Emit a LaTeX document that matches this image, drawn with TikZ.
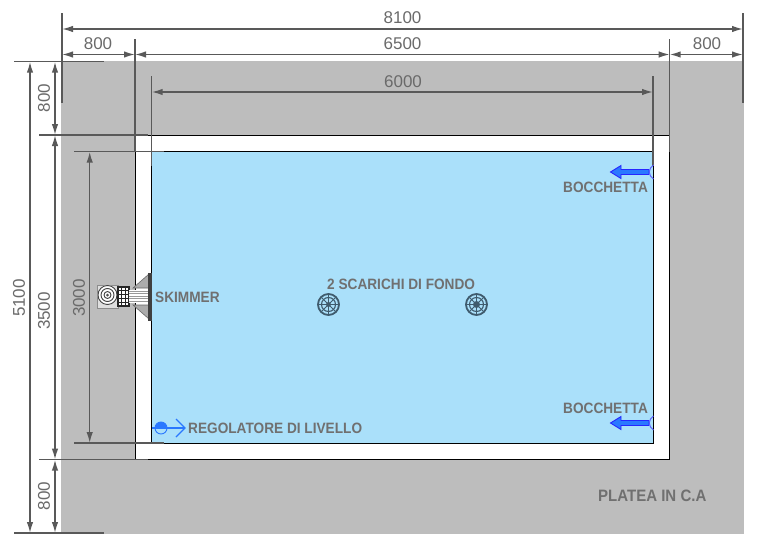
\documentclass[tikz,border=0pt]{standalone}
\usepackage{fontspec}
\setmainfont{Liberation Sans}
\newfontfamily\labelfont[FakeStretch=0.91]{Liberation Sans Bold}
\usetikzlibrary{arrows.meta}
\definecolor{plateagray}{HTML}{BDBDBD}
\definecolor{waterblue}{HTML}{AAE0FA}
\definecolor{dimgray}{HTML}{595959}
\definecolor{labelgray}{HTML}{707070}
\definecolor{numbergray}{HTML}{6A6A6A}
\definecolor{drainblue}{HTML}{3F5B6D}
\definecolor{jetblue}{HTML}{2A78FF}
\tikzset{
	dimline/.style={draw=dimgray, line width=1.5pt, {Latex[length=11pt,width=6.5pt]}-{Latex[length=11pt,width=6.5pt]}},
	extline/.style={draw=dimgray, line width=1.5pt},
	dimtext/.style={text=numbergray, font=\fontsize{17}{17}\selectfont, inner sep=0pt},
	dimtextv/.style={dimtext, rotate=90},
	partlabel/.style={text=labelgray, font=\labelfont\fontsize{15}{15}\selectfont, inner sep=0pt, anchor=west},
}
\begin{document}
\begin{tikzpicture}[x=1pt, y=-1pt]
	\useasboundingbox (0,0) rectangle (757,546);

	% Slab, pool border and water
	\fill[plateagray] (61,61) rectangle (744,534);
	\filldraw[fill=white, draw=black, line width=1pt] (135.5,135) rectangle (669.7,459.5);
	\filldraw[fill=waterblue, draw=black, line width=1pt] (151.5,151.5) rectangle (653.5,443.5);

	% Reference points of the horizontal dimensions
	\coordinate (a1) at (62,29);
	\coordinate (a2) at (743,29);
	\coordinate (b1) at (62,54.5);
	\coordinate (b2) at (135,54.5);
	\coordinate (b3) at (669.7,54.5);
	\coordinate (b4) at (743,54.5);
	\coordinate (c1) at (151.7,92);
	\coordinate (c2) at (653,92);

	% Reference points of the vertical dimensions
	\coordinate (d1) at (30,61.7);
	\coordinate (d2) at (30,533);
	\coordinate (e1) at (55,61.7);
	\coordinate (e2) at (55,135);
	\coordinate (e3) at (55,459.6);
	\coordinate (e4) at (55,533);
	\coordinate (f1) at (89.7,151.7);
	\coordinate (f2) at (89.7,443);

	% Extension lines
	\draw[extline] (62,13) -- (62,103);
	\draw[extline] (743,13) -- (743,103);
	\draw[extline] (135,39) -- (135,152);
	\draw[extline] (669.7,39) -- (669.7,152);
	\draw[extline] (151.7,76) -- (151.7,165.5);
	\draw[extline] (653,76) -- (653,165.5);
	\draw[extline] (14,61.7) -- (104,61.7);
	\draw[extline] (14,533) -- (104,533);
	\draw[extline] (39,135) -- (148,135);
	\draw[extline] (39,459.6) -- (148,459.6);
	\draw[extline] (74,151.7) -- (164,151.7);
	\draw[extline] (74,443) -- (164,443);

	% Dimension lines
	\draw[dimline] (a1) -- (a2);
	\draw[dimline] (b1) -- (b2);
	\draw[dimline] (b2) -- (b3);
	\draw[dimline] (b3) -- (b4);
	\draw[dimline] (c1) -- (c2);
	\draw[dimline] (d1) -- (d2);
	\draw[dimline] (e1) -- (e2);
	\draw[dimline] (e2) -- (e3);
	\draw[dimline] (e3) -- (e4);
	\draw[dimline] (f1) -- (f2);

	% Dimension values
	\node[dimtext] (w8100) at (402.5,18) {8100};
	\node[dimtext] (w800l) at (98,44) {800};
	\node[dimtext] (w6500) at (402.5,44) {6500};
	\node[dimtext] (w800r) at (707,44) {800};
	\node[dimtext] (w6000) at (403,82) {6000};
	\node[dimtextv] (h5100) at (19,298) {5100};
	\node[dimtextv] (h800t) at (44,98) {800};
	\node[dimtextv] (h3500) at (44,311) {3500};
	\node[dimtextv] (h800b) at (44,496) {800};
	\node[dimtextv] (h3000) at (79,298) {3000};

	% Skimmer
	\filldraw[fill=gray!25, draw=black!45, line width=.8pt] (97,285) rectangle (118,308);
	\fill[white] (107.5,295) circle (10);
	\foreach \r in {9.5,6.5,3.5} {
		\draw[black!75, line width=.9pt] (107.5,295) circle (\r);
	}
	\fill[black!70] (107.5,295) circle (1.5);
	\fill[white] (118,287) rectangle (129,306);
	\draw[black!85, line width=1.1pt] (118,287) rectangle (129,306);
	\foreach \gx in {121.7,125.4} {
		\draw[black!85, line width=1.1pt] (\gx,287) -- (\gx,306);
	}
	\foreach \gy in {290.8,294.6,298.4,302.2} {
		\draw[black!85, line width=1.1pt] (118,\gy) -- (129,\gy);
	}
	\fill[white] (129,290) rectangle (148,303);
	\foreach \y in {291,293.5,296,298.5,301} {
		\draw[gray!80, line width=.8pt] (129,\y) -- (148,\y);
	}
	\filldraw[fill=gray!65, draw=black!60, line width=.6pt] (133,288) -- (149,274) -- (149,288) -- cycle;
	\filldraw[fill=gray!65, draw=black!60, line width=.6pt] (133,305) -- (149,319) -- (149,305) -- cycle;
	\fill[black!75] (147.5,273) rectangle (151.5,321);
	\node[partlabel] (skimmer) at (155,297.5) {SKIMMER};

	% Level regulator
	\fill[jetblue] (155,428) arc[start angle=180, end angle=360, radius=6] -- cycle;
	\draw[jetblue, line width=.9pt] (161,428) circle (6);
	\draw[jetblue, line width=1.3pt] (152,428) -- (185,428);
	\draw[jetblue, line width=1.3pt] (176,419) -- (185,428) -- (176,437);
	\node[partlabel] (regolatore) at (188,428) {REGOLATORE DI LIVELLO};

	% Floor drains
	\foreach \px/\hub in {328.5/2.5,476.5/3.5} {
		\draw[drainblue, line width=1.8pt] (\px,304.5) circle (10.5);
		\draw[drainblue, line width=1.1pt] (\px,304.5) circle (7);
		\foreach \a in {0,45,...,315} {
			\draw[drainblue, line width=.9pt] (\px,304.5) -- +(\a:10);
		}
		\fill[drainblue] (\px,304.5) circle (\hub);
	}
	\node[partlabel] (scarichi) at (327,284) {2 SCARICHI DI FONDO};

	% Inlets
	\foreach \py in {172,423} {
		\filldraw[fill=jetblue, draw=blue!85!white, line width=.9pt] (649,\py-2.5) -- (621,\py-2.5) -- (621,\py-6.5) -- (610.5,\py) -- (621,\py+6.5) -- (621,\py+2.5) -- (649,\py+2.5) -- cycle;
		\draw[blue!65!white, line width=.9pt] (653.5,\py-7) .. controls (648,\py-4) and (648,\py+4) .. (653.5,\py+7);
	}
	\node[partlabel] (bocchetta1) at (563,187.5) {BOCCHETTA};
	\node[partlabel] (bocchetta2) at (563,408.5) {BOCCHETTA};

	% Slab label
	\node[partlabel, font=\labelfont\fontsize{16.5}{17}\selectfont] (platea) at (598,496) {PLATEA IN C.A};
\end{tikzpicture}
\end{document}
